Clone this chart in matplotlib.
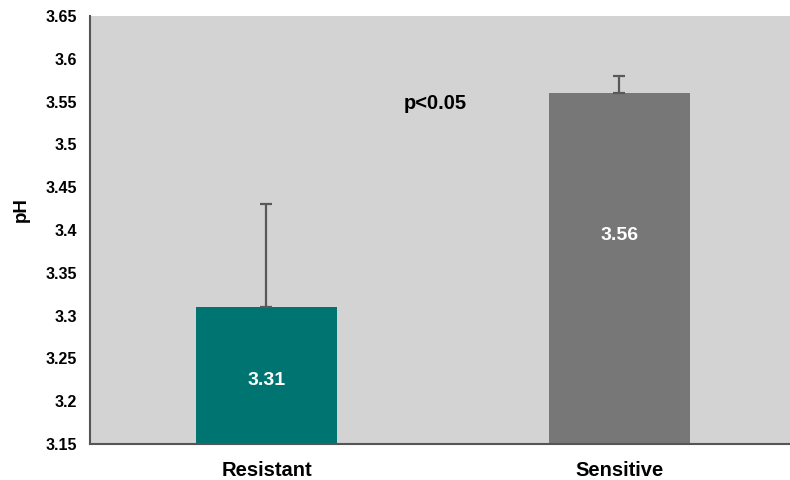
import matplotlib
matplotlib.use("Agg")
import matplotlib.pyplot as plt

categories = ["Resistant", "Sensitive"]
ph_means = [3.31, 3.56]
ph_errors = [0.12, 0.02]
bar_colors = ["#007470", "#777777"]
label_y = [3.224, 3.393]
y_ticks = [3.15, 3.2, 3.25, 3.3, 3.35, 3.4, 3.45, 3.5, 3.55, 3.6, 3.65]
y_tick_labels = ["3.15", "3.2", "3.25", "3.3", "3.35", "3.4", "3.45", "3.5", "3.55", "3.6", "3.65"]

plt.rcParams["font.family"] = ["Liberation Sans", "DejaVu Sans"]

fig = plt.figure(figsize=(7.9, 4.8), dpi=100)
ax = fig.add_axes([0.1139, 0.075, 0.8937, 0.8917])
ax.set_facecolor("#d3d3d3")

x = list(range(len(categories)))
ax.bar(x, [m - 3.15 for m in ph_means], bottom=3.15, width=0.4,
       color=bar_colors, zorder=2)
ax.errorbar(x, ph_means, yerr=[[0, 0], ph_errors], fmt="none",
            ecolor="#595959", elinewidth=1.6, capsize=4, capthick=1.6, zorder=3)

for xi, m, ly in zip(x, ph_means, label_y):
    ax.text(xi, ly, f"{m:.2f}", ha="center", va="center",
            color="white", fontsize=14, fontweight="bold", zorder=4)

ax.text(0.477, 3.548, "p<0.05", ha="center", va="center",
        fontsize=14.5, fontweight="bold", color="black")

ax.set_xlim(-0.5, 1.5)
ax.set_ylim(3.15, 3.65)
ax.set_yticks(y_ticks)
ax.set_yticklabels(y_tick_labels, fontsize=11.5, fontweight="bold")
ax.set_xticks(x)
ax.set_xticklabels(categories, fontsize=14.5, fontweight="bold")
ax.tick_params(axis="both", length=0)
ax.tick_params(axis="y", pad=9.5)
ax.tick_params(axis="x", pad=12)
fig.text(21 / 790, 1 - 210 / 480, "pH", rotation=90, ha="center", va="center",
         fontsize=13.5, fontweight="bold")

for side in ["top", "right"]:
    ax.spines[side].set_visible(False)
for side in ["left", "bottom"]:
    ax.spines[side].set_color("#555555")
    ax.spines[side].set_linewidth(1.5)

fig.savefig("out.png", dpi=100)
